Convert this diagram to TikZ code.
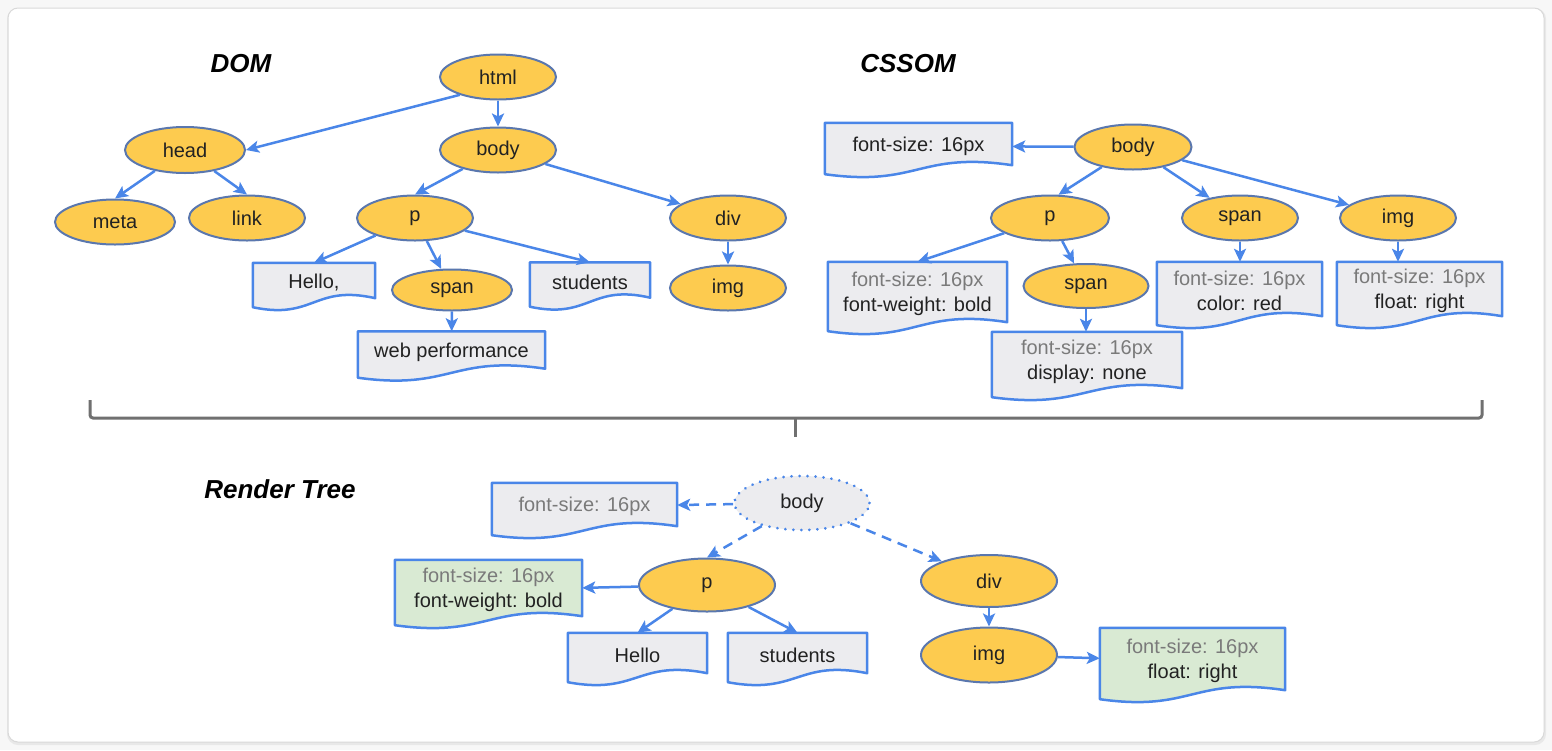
\documentclass[tikz,border=0pt]{standalone}
\usepackage{fontspec}
\setmainfont{Liberation Sans}
\usetikzlibrary{shapes.geometric,arrows.meta,calc}
\definecolor{ellfill}{HTML}{FDCB4F}
\definecolor{ellline}{HTML}{5A77AE}
\definecolor{blueline}{HTML}{4A86E8}
\definecolor{boxfill}{HTML}{ECECEF}
\definecolor{greenfill}{HTML}{D9EAD3}
\definecolor{graytext}{HTML}{7A7A7A}
\definecolor{darktext}{HTML}{222222}
\definecolor{bracecol}{HTML}{707070}
\pgfdeclarelayer{background}
\pgfdeclarelayer{backmost}
\pgfsetlayers{backmost,background,main}
\newcommand\docdraw[2]{\path[draw=blueline, line width=2.5pt, fill=#2, line join=round] (#1.north west) -- (#1.north east) -- ($(#1.south east)+(0,-4)$) .. controls ($(#1.south)+(0,-18)$) and ($(#1.south)+(0,18)$) .. ($(#1.south west)+(0,5)$) -- cycle;}
\newcommand\gry[1]{{\color{graytext}#1}}
\begin{document}
\begin{tikzpicture}[x=1pt,y=-1pt,
  every node/.style={font=\fontsize{20}{25}\selectfont, text=darktext},
  ell/.style={ellipse, draw=ellline, fill=ellfill, line width=2pt, inner sep=0pt, minimum width=116pt, minimum height=45pt},
  rell/.style={ell, minimum width=136pt, minimum height=53pt},
  dotell/.style={ellipse, draw=blueline, fill=boxfill, line width=3pt, inner sep=0pt, minimum width=135pt, minimum height=54pt, dash pattern=on 0.01pt off 8pt, line cap=round},
  docbox/.style={rectangle, inner sep=0pt, align=center},
  arr/.style={draw=blueline, line width=2.5pt, -{Stealth[length=13pt,width=12pt,inset=3pt]}},
  darr/.style={arr, dash pattern=on 10pt off 7pt},
  title/.style={font=\bfseries\itshape\fontsize{26}{30}\selectfont, text=black},
]
\useasboundingbox (0,0) rectangle (1552,750);
\begin{pgfonlayer}{backmost}
\fill[gray!6] (0,0) rectangle (1552,750);
\fill[gray!18, rounded corners=11pt] (7,8) rectangle (1546,745);
\draw[gray!30, fill=white, rounded corners=10pt, line width=1pt] (8,8) rectangle (1544,742);
\end{pgfonlayer}

% ---------------- DOM ----------------
\node[title] (tdom) at (241,64) {DOM};
\node[ell] (dhtml) at (498,77) {html};
\node[ell, minimum width=120pt, minimum height=46pt] (dhead) at (185,150) {head};
\node[ell] (dbody) at (498,150) {body};
\node[ell, minimum width=120pt] (dmeta) at (115,222) {meta};
\node[ell] (dlink) at (247,218) {link};
\node[ell] (dp) at (415,218) {p};
\node[ell] (ddiv) at (728,218) {div};
\node[ell, minimum width=120pt, minimum height=41pt] (dspan) at (452,290) {span};
\node[ell] (dimg) at (728,288) {img};
\node[docbox, minimum width=122pt, minimum height=39pt] (dhello) at (314,282.5) {Hello,};
\node[docbox, minimum width=120pt, minimum height=39pt] (dstud) at (590,282) {students};
\node[docbox, minimum width=187pt, minimum height=41pt] (dweb) at (451.5,352) {web performance};

\draw[arr] (dhtml.205) -- (dhead.east);
\draw[arr] (dhtml) -- (dbody);
\draw[arr] (dhead) -- (dmeta.north);
\draw[arr] (dhead) -- (dlink.north);
\draw[arr] (dbody) -- (dp.north);
\draw[arr] (dbody) -- (ddiv);
\draw[arr] (dp) -- (dhello.north);
\draw[arr] (dp) -- (dspan);
\draw[arr] (dp) -- (dstud.north);
\draw[arr] (dspan) -- (dweb);
\draw[arr] (ddiv) -- (dimg);

% ---------------- CSSOM ----------------
\node[title] (tcss) at (908,64) {CSSOM};
\node[ell, minimum width=117pt] (cbody) at (1133,147) {body};
\node[ell, minimum width=118pt] (cp) at (1050,218) {p};
\node[ell] (cspan) at (1240,218) {span};
\node[ell] (cimg) at (1398,218) {img};
\node[ell, minimum width=125pt, minimum height=44pt] (cspan2) at (1086,286) {span};
\node[docbox, minimum width=187pt, minimum height=46pt] (cfs) at (918.5,146) {font-size: 16px};
\node[docbox, minimum width=179pt, minimum height=64pt] (cfw) at (917.5,294) {\gry{font-size: 16px}\\font-weight: bold};
\node[docbox, minimum width=190pt, minimum height=60pt] (cdisp) at (1087,362) {\gry{font-size: 16px}\\display: none};
\node[docbox, minimum width=165pt, minimum height=58pt] (ccolor) at (1239.5,291) {\gry{font-size: 16px}\\color: red};
\node[docbox, minimum width=165pt, minimum height=58pt] (cfloat) at (1419.5,291) {\gry{font-size: 16px}\\float: right};

\draw[arr] (cbody) -- (cfs);
\draw[arr] (cbody) -- (cp.70);
\draw[arr] (cbody) -- (cspan);
\draw[arr] (cbody) -- (cimg);
\draw[arr] (cp) -- (cfw.north);
\draw[arr] (cp) -- (cspan2);
\draw[arr] (cspan2) -- (cspan2 |- cdisp.north);
\draw[arr] (cspan) -- (cspan |- ccolor.north);
\draw[arr] (cimg) -- (cimg |- cfloat.north);

% ---------------- brace ----------------
\coordinate (bl) at (90,400);
\coordinate (br) at (1482,400);
\coordinate (bm) at (795,418);
\coordinate (btip) at (795,437);
\draw[bracecol, line width=3pt, rounded corners=3pt] (bl) |- (bm) -| (br);
\draw[bracecol, line width=3pt, rounded corners=3pt] (bm) -- (btip);

% ---------------- Render Tree ----------------
\node[title] (trender) at (280,489) {Render Tree};
\node[dotell] (rbody) at (802,503) {body};
\node[rell] (rp) at (707,585) {p};
\node[rell, minimum height=52pt] (rdiv) at (989,581) {div};
\node[rell, minimum height=55pt] (rimg) at (989,655) {img};
\node[docbox, minimum width=185pt, minimum height=47pt] (rfs) at (584.5,506.5) {\gry{font-size: 16px}};
\node[docbox, minimum width=187pt, minimum height=60pt] (rgreen) at (488.5,590) {\gry{font-size: 16px}\\font-weight: bold};
\node[docbox, minimum width=139pt, minimum height=44pt] (rhello) at (637.5,655) {Hello};
\node[docbox, minimum width=139pt, minimum height=44pt] (rstud) at (797.5,655) {students};
\node[docbox, minimum width=185pt, minimum height=66pt] (rfloat) at (1192.5,661) {\gry{font-size: 16px}\\float: right};

\draw[darr] (rbody) -- (rfs);
\draw[darr] (rbody) -- (rp.north);
\draw[darr] (rbody) -- (rdiv);
\draw[arr] (rp) -- (rgreen);
\draw[arr] (rp) -- (rhello.north);
\draw[arr] (rp) -- (rstud.north);
\draw[arr] (rdiv) -- (rimg);
\draw[arr] (rimg) -- (rfloat);

\begin{pgfonlayer}{background}
\docdraw{dhello}{boxfill}
\docdraw{dstud}{boxfill}
\docdraw{dweb}{boxfill}
\docdraw{cfs}{boxfill}
\docdraw{cfw}{boxfill}
\docdraw{cdisp}{boxfill}
\docdraw{ccolor}{boxfill}
\docdraw{cfloat}{boxfill}
\docdraw{rfs}{boxfill}
\docdraw{rgreen}{greenfill}
\docdraw{rhello}{boxfill}
\docdraw{rstud}{boxfill}
\docdraw{rfloat}{greenfill}
\end{pgfonlayer}
\end{tikzpicture}
\end{document}
